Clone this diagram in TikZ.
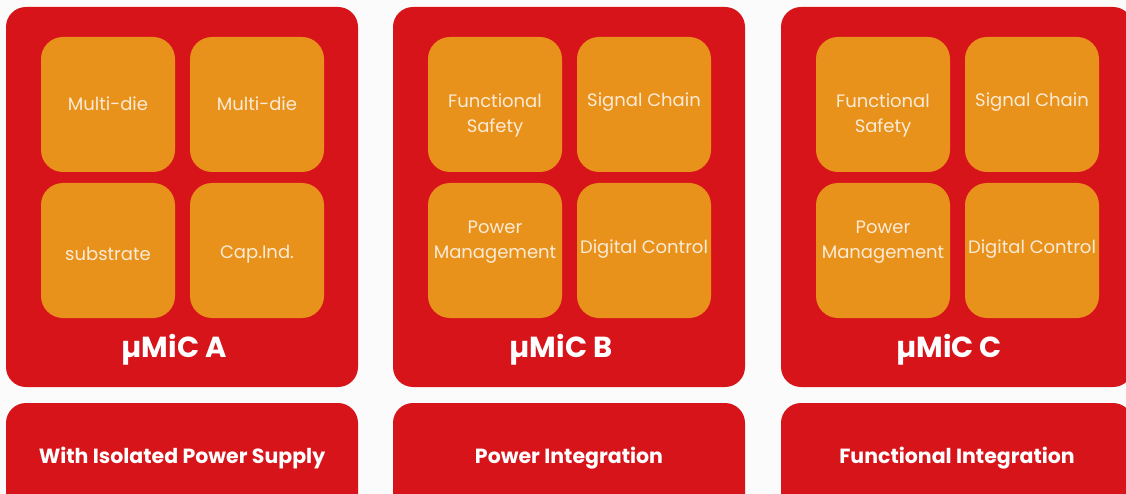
\documentclass[tikz,border=0pt]{standalone}
\usepackage{fontspec}
\setmainfont{Poppins}
\definecolor{panelred}{HTML}{D7141A}
\definecolor{cellorange}{HTML}{E8921C}
\definecolor{bgwhite}{HTML}{FBFBFB}
\definecolor{celltext}{HTML}{FBEBD6}
\begin{document}
\begin{tikzpicture}[x=1pt,y=-1pt,
  panel/.style={fill=panelred,draw=none,rounded corners=20pt},
  cell/.style={fill=cellorange,draw=none,rounded corners=22pt},
  celllabel/.style={text=celltext,align=center,font=\fontsize{18}{25}\selectfont,inner sep=0pt},
  titlelabel/.style={text=white,font=\fontsize{29}{32}\selectfont\bfseries,inner sep=0pt},
  footlabel/.style={text=white,font=\fontsize{20.5}{24}\selectfont\bfseries,inner sep=0pt}]
\useasboundingbox (0,0) rectangle (1126,494);
\clip (0,0) rectangle (1126,494);
\fill[bgwhite] (0,0) rectangle (1126,494);
\foreach \ox/\nm in {6/A,393/B,781/C}{
  \path[panel] (\ox,7) rectangle ++(352,380);
  \path[panel] (\ox,403) rectangle ++(352,120);
  \path[cell] (\ox+35,37) rectangle ++(134,135);
  \path[cell] (\ox+184,37) rectangle ++(134,135);
  \path[cell] (\ox+35,183) rectangle ++(134,135);
  \path[cell] (\ox+184,183) rectangle ++(134,135);
  \coordinate (tl\nm) at (\ox+102,104);
  \coordinate (tr\nm) at (\ox+251,104);
  \coordinate (bl\nm) at (\ox+102,250);
  \coordinate (br\nm) at (\ox+251,250);
  \coordinate (ti\nm) at (\ox+168,350);
  \coordinate (fo\nm) at (\ox+176,458);
}
% cell texts, panel A
\node[celllabel] (a1) at (tlA) {Multi-die};
\node[celllabel] (a2) at (trA) {Multi-die};
\node[celllabel] (a3) at ([yshift=-4pt]blA) {substrate};
\node[celllabel] (a4) at ([yshift=-4pt]brA) {Cap.Ind.};
% panel B
\node[celllabel] (b1) at ([yshift=-11pt]tlB) {Functional\\Safety};
\node[celllabel] (b2) at ([yshift=2pt]trB) {Signal Chain};
\node[celllabel] (b3) at ([yshift=8pt]blB) {Power\\Management};
\node[celllabel] (b4) at ([yshift=1pt]brB) {Digital Control};
% panel C
\node[celllabel] (c1) at ([yshift=-11pt]tlC) {Functional\\Safety};
\node[celllabel] (c2) at ([yshift=2pt]trC) {Signal Chain};
\node[celllabel] (c3) at ([yshift=8pt]blC) {Power\\Management};
\node[celllabel] (c4) at ([yshift=1pt]brC) {Digital Control};
% titles
\node[titlelabel] (ta) at (tiA) {µMiC A};
\node[titlelabel] (tb) at (tiB) {µMiC B};
\node[titlelabel] (tc) at (tiC) {µMiC C};
% footers
\node[footlabel] (fa) at (foA) {With Isolated Power Supply};
\node[footlabel] (fb) at (foB) {Power Integration};
\node[footlabel] (fc) at (foC) {Functional Integration};
\end{tikzpicture}
\end{document}
